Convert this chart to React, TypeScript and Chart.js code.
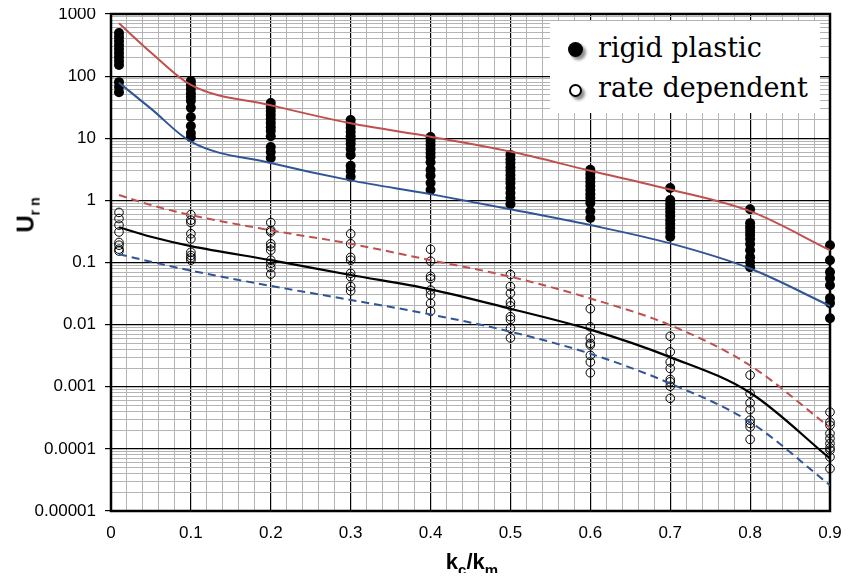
import React, { useEffect, useRef } from "react";
import { Chart, registerables } from "chart.js";
Chart.register(...registerables);

// ---- curves ----
const CURVE_X = [0.01, 0.05, 0.1, 0.2, 0.3, 0.4, 0.5, 0.6, 0.7, 0.8, 0.9];
const RED_SOLID = [708, 240, 72, 34, 17.4, 10.6, 6.1, 3.0, 1.5, 0.67, 0.158];
const BLUE_SOLID = [78, 30, 8.8, 4.0, 2.1, 1.26, 0.72, 0.4, 0.203, 0.08, 0.02];
const RED_DASHED = [1.22, 0.84, 0.58, 0.33, 0.2, 0.109, 0.059, 0.0264, 0.0098, 0.0022, 0.00022];
const BLACK_SOLID = [0.37, 0.26, 0.184, 0.109, 0.063, 0.037, 0.018, 0.0083, 0.003, 0.0008, 0.00007];
const BLUE_DASHED = [0.136, 0.103, 0.074, 0.042, 0.025, 0.0146, 0.0077, 0.0034, 0.00113, 0.00027, 0.000026];

// ---- point columns ----
const COLUMN_X = [0.01, 0.1, 0.2, 0.3, 0.4, 0.5, 0.6, 0.7, 0.8, 0.9];
const RIGID_001 = [494, 427, 368, 317, 273, 236, 203, 175, 151, 80, 67, 55];
const RIGID_01 = [83, 72, 62, 53, 46, 40, 31, 22, 15.7, 12.1, 10.4];
const RIGID_02 = [36.9, 31.8, 27.4, 23.6, 20.4, 17.6, 15.1, 13.1, 10.8, 7.2, 6.0, 4.8];
const RIGID_03 = [19.6, 16.9, 14.6, 12.6, 10.8, 9.4, 8.1, 6.7, 5.4, 3.6, 3.0, 2.4];
const RIGID_04 = [10.5, 9.0, 7.8, 6.7, 5.8, 5.0, 4.1, 3.1, 2.5, 1.9, 1.47];
const RIGID_05 = [5.4, 4.6, 4.0, 3.4, 3.0, 2.55, 2.2, 1.9, 1.58, 1.31, 1.09, 0.87];
const RIGID_06 = [3.1, 2.65, 2.3, 1.97, 1.7, 1.47, 1.26, 1.09, 0.91, 0.67, 0.52];
const RIGID_07 = [1.58, 1.01, 0.87, 0.75, 0.65, 0.56, 0.48, 0.42, 0.36, 0.31, 0.26];
const RIGID_08 = [0.72, 0.43, 0.37, 0.32, 0.28, 0.24, 0.198, 0.158, 0.122, 0.101, 0.084];
const RIGID_09 = [0.19, 0.109, 0.07, 0.056, 0.043, 0.0267, 0.0222, 0.0127];

const RATE_001 = [0.64, 0.51, 0.4, 0.31, 0.21, 0.19, 0.164, 0.153];
const RATE_01 = [0.59, 0.48, 0.44, 0.29, 0.24, 0.146, 0.13, 0.119, 0.109];
const RATE_02 = [0.44, 0.33, 0.31, 0.2, 0.18, 0.158, 0.109, 0.097, 0.083, 0.065];
const RATE_03 = [0.29, 0.2, 0.121, 0.109, 0.067, 0.059, 0.041, 0.035];
const RATE_04 = [0.163, 0.105, 0.06, 0.055, 0.036, 0.03, 0.022, 0.0165];
const RATE_05 = [0.064, 0.041, 0.032, 0.0228, 0.02, 0.0134, 0.0121, 0.0087, 0.0061];
const RATE_06 = [0.018, 0.0092, 0.0061, 0.005, 0.0047, 0.0032, 0.0025, 0.00168];
const RATE_07 = [0.0065, 0.00365, 0.0025, 0.00197, 0.00131, 0.0012, 0.00102, 0.00065];
const RATE_08 = [0.00154, 0.00078, 0.00055, 0.00043, 0.00029, 0.000256, 0.000226, 0.000142];
const RATE_09 = [0.00039, 0.00027, 0.00024, 0.000177, 0.000147, 0.000122, 0.000104, 0.000095, 0.000074, 0.000048];

const RIGID_COLUMNS = [RIGID_001, RIGID_01, RIGID_02, RIGID_03, RIGID_04, RIGID_05, RIGID_06, RIGID_07, RIGID_08, RIGID_09];
const RATE_COLUMNS = [RATE_001, RATE_01, RATE_02, RATE_03, RATE_04, RATE_05, RATE_06, RATE_07, RATE_08, RATE_09];

// ---- axes ----
const Y_DECADES = [0.00001, 0.0001, 0.001, 0.01, 0.1, 1, 10, 100, 1000];
const Y_TICK_LABELS = ["0.00001", "0.0001", "0.001", "0.01", "0.1", "1", "10", "100", "1000"];
const X_MIN = 0;
const X_MAX = 0.9;
const X_MINOR_STEP = 0.02;
const X_TICK_LABELS = ["0", "0.1", "0.2", "0.3", "0.4", "0.5", "0.6", "0.7", "0.8", "0.9"];

const RED = "#c0504d";
const BLUE = "#2f5597";
const MINOR_GRID = "#b4b4b4";

const decadeIndex = (v: number) =>
  Y_DECADES.findIndex((d) => Math.abs(v - d) / d < 1e-6);
const isTenth = (v: number) => Math.abs(v * 10 - Math.round(v * 10)) < 1e-6;

const curve = (ys: number[]) => CURVE_X.map((x, i) => ({ x, y: ys[i] }));
const cloud = (cols: number[][]) =>
  COLUMN_X.flatMap((x, i) => cols[i].map((y) => ({ x, y })));

const framePlugin = {
  id: "frame",
  beforeDatasetsDraw(chart: any) {
    const { ctx, chartArea: a } = chart;
    ctx.save();
    ctx.strokeStyle = "#000";
    ctx.lineWidth = 2.5;
    ctx.strokeRect(a.left, a.top, a.right - a.left, a.bottom - a.top);
    ctx.restore();
  },
};

export default function App() {
  const ref = useRef<HTMLCanvasElement | null>(null);

  useEffect(() => {
    if (!ref.current) return;
    const lineDs = (label: string, ys: number[], color: string, dash: number[], width = 2) => ({
      type: "line" as const,
      label,
      data: curve(ys),
      borderColor: color,
      borderWidth: width,
      borderDash: dash,
      pointRadius: 0,
      showLine: true,
      fill: false,
      cubicInterpolationMode: "monotone" as const,
    });
    const chart = new Chart(ref.current, {
      type: "scatter",
      data: {
        datasets: [
          lineDs("red solid", RED_SOLID, RED, []),
          lineDs("blue solid", BLUE_SOLID, BLUE, []),
          lineDs("red dashed", RED_DASHED, RED, [8, 5]),
          lineDs("black solid", BLACK_SOLID, "#000", [], 2.2),
          lineDs("blue dashed", BLUE_DASHED, BLUE, [8, 5]),
          {
            label: "rigid plastic",
            data: cloud(RIGID_COLUMNS),
            pointRadius: 5,
            pointBackgroundColor: "#000",
            pointBorderColor: "#000",
            pointBorderWidth: 0,
            clip: false as any,
          },
          {
            label: "rate dependent",
            data: cloud(RATE_COLUMNS),
            pointRadius: 4.3,
            pointBackgroundColor: "rgba(0,0,0,0)",
            pointBorderColor: "#000",
            pointBorderWidth: 1,
            clip: false as any,
          },
        ] as any,
      },
      options: {
        animation: false,
        responsive: false,
        devicePixelRatio: 1,
        layout: { padding: { top: 6, right: 14, left: 0, bottom: 0 } },
        plugins: {
          legend: { display: false },
          tooltip: { enabled: false },
        },
        scales: {
          x: {
            type: "linear",
            min: X_MIN,
            max: X_MAX,
            afterBuildTicks: (scale: any) => {
              const ticks = [];
              const n = Math.round((X_MAX - X_MIN) / X_MINOR_STEP);
              for (let i = 0; i <= n; i++) ticks.push({ value: +(X_MIN + i * X_MINOR_STEP).toFixed(4) });
              scale.ticks = ticks;
            },
            afterFit: (scale: any) => {
              scale.height = 62;
              scale.paddingLeft = 0;
              scale.paddingRight = 0;
            },
            border: { display: false },
            grid: {
              color: (c: any) => (c.tick && isTenth(c.tick.value) ? "#000" : MINOR_GRID),
              lineWidth: (c: any) => (c.tick && isTenth(c.tick.value) ? 1.2 : 1),
              drawTicks: false,
            },
            ticks: {
              autoSkip: false,
              maxRotation: 0,
              padding: 12,
              color: "#000",
              font: { family: "'Liberation Sans', Arial, sans-serif", size: 17 },
              callback: (v: any) => (isTenth(v) ? X_TICK_LABELS[Math.round(v * 10)] : ""),
            },
          },
          y: {
            type: "logarithmic",
            min: Y_DECADES[0],
            max: Y_DECADES[Y_DECADES.length - 1],
            afterBuildTicks: (scale: any) => {
              const ticks: any[] = [];
              for (let i = 0; i < Y_DECADES.length - 1; i++) {
                for (let k = 1; k <= 9; k++) ticks.push({ value: Y_DECADES[i] * k });
              }
              ticks.push({ value: Y_DECADES[Y_DECADES.length - 1] });
              scale.ticks = ticks;
            },
            afterFit: (scale: any) => {
              scale.width = 103;
              scale.paddingTop = 0;
              scale.paddingBottom = 0;
            },
            border: { display: false },
            grid: {
              color: (c: any) => (c.tick && decadeIndex(c.tick.value) >= 0 ? "#000" : MINOR_GRID),
              lineWidth: (c: any) => (c.tick && decadeIndex(c.tick.value) >= 0 ? 1.2 : 1),
              tickColor: (c: any) => (c.tick && decadeIndex(c.tick.value) >= 0 ? "#000" : "rgba(0,0,0,0)"),
              tickLength: 6,
            },
            ticks: {
              autoSkip: false,
              padding: 9,
              color: "#000",
              font: { family: "'Liberation Sans', Arial, sans-serif", size: 17 },
              callback: (v: any) => {
                const i = decadeIndex(Number(v));
                return i >= 0 ? Y_TICK_LABELS[i] : "";
              },
            },
          },
        },
      } as any,
      plugins: [framePlugin],
    });
    return () => chart.destroy();
  }, []);

  const legendText: React.CSSProperties = {
    position: "absolute",
    left: 590,
    fontFamily: "'DejaVu Serif', serif",
    fontSize: 27,
    lineHeight: "27px",
    color: "#000",
    whiteSpace: "nowrap",
  };
  const sans = "'Liberation Sans', Arial, sans-serif";

  return (
    <div style={{ position: "relative", width: 836, height: 565 }}>
      <canvas ref={ref} width={836} height={565} style={{ width: 836, height: 565, display: "block" }} />
      {/* legend */}
      <div style={{ position: "absolute", left: 542, top: 13, width: 270, height: 92, background: "#fff" }} />
      <div
        style={{
          position: "absolute", left: 567 - 7.5, top: 41 - 7.5, width: 15, height: 15,
          borderRadius: "50%", background: "#000", boxShadow: "3px 3px 3px rgba(0,0,0,0.45)",
        }}
      />
      <div
        style={{
          position: "absolute", left: 567 - 6.5, top: 82 - 6.5, width: 13, height: 13, boxSizing: "border-box",
          borderRadius: "50%", background: "#fff", border: "2px solid #000", boxShadow: "3px 3px 3px rgba(0,0,0,0.45)",
        }}
      />
      <div style={{ ...legendText, top: 26 }}>rigid plastic</div>
      <div style={{ ...legendText, top: 66 }}>rate dependent</div>
      {/* y title */}
      <div
        style={{
          position: "absolute", left: 22, top: 207, transform: "translate(-50%, -50%) rotate(-90deg)",
          fontFamily: sans, fontWeight: "bold", fontSize: 24, whiteSpace: "nowrap", lineHeight: "24px",
        }}
      >
        U<sub style={{ fontSize: 14 }}>r n</sub>
      </div>
      {/* x title */}
      <div
        style={{
          position: "absolute", left: 464, top: 558, transform: "translate(-50%, -50%)",
          fontFamily: sans, fontWeight: "bold", fontSize: 22, whiteSpace: "nowrap", lineHeight: "22px",
        }}
      >
        k<sub style={{ fontSize: 15 }}>c</sub>/k<sub style={{ fontSize: 15 }}>m</sub>
      </div>
    </div>
  );
}
